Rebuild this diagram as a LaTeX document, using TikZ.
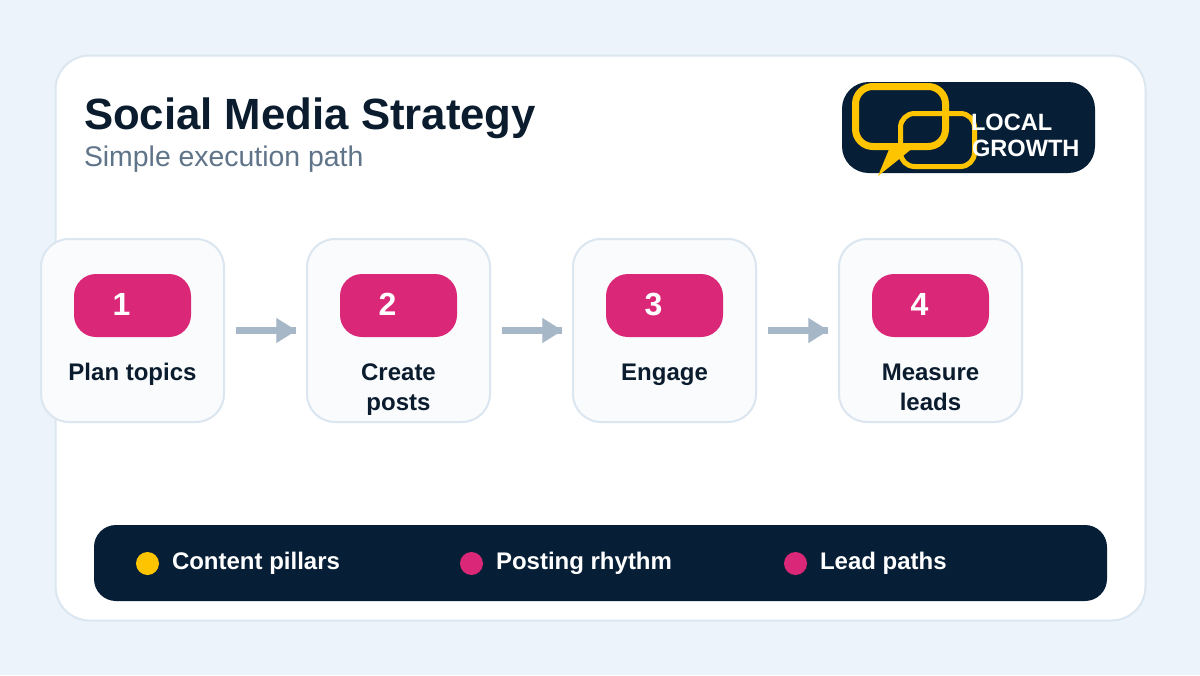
\documentclass[tikz,border=0pt]{standalone}
\usepackage{fontspec}
\setmainfont{Liberation Sans}
\usetikzlibrary{arrows.meta}

\definecolor{pagebg}{HTML}{ECF3FA}
\definecolor{cardline}{HTML}{DBE6F0}
\definecolor{cardfill}{HTML}{F9FBFD}
\definecolor{navy}{HTML}{071F36}
\definecolor{inkdark}{HTML}{0B1C2E}
\definecolor{inkgrey}{HTML}{5F7488}
\definecolor{badgepink}{HTML}{DB2777}
\definecolor{logoyellow}{HTML}{FFC400}
\definecolor{flowgrey}{HTML}{A6B8C8}

\tikzset{
	every picture/.style={line width=0.75pt},
	every node/.style={inner sep=0pt,outer sep=0pt},
	stepcard/.style={draw=cardline,fill=cardfill,line width=1.5pt,rounded corners=21pt,minimum width=137.25pt,minimum height=137.25pt},
	stepbadge/.style={fill=badgepink,rounded corners=16.5pt,minimum width=87.75pt,minimum height=47.25pt},
	stepnum/.style={text=white,font=\bfseries\fontsize{24pt}{24pt}\selectfont},
	steplabel/.style={text=inkdark,align=center,font=\bfseries\fontsize{18pt}{22.5pt}\selectfont},
	flowshaft/.style={draw=flowgrey,line width=5.25pt,shorten <=9pt,shorten >=8pt},
	flowtip/.style={draw=flowgrey,line width=0.1pt,shorten <=9pt,shorten >=8pt,-{Triangle[length=15pt,width=18.75pt,fill=flowgrey]}},
	legendtext/.style={anchor=base west,text=white,font=\bfseries\fontsize{18pt}{18pt}\selectfont},
	legenddot/.style={circle,minimum size=17.25pt},
	logotext/.style={anchor=base west,text=white,font=\bfseries\fontsize{17.7pt}{17.7pt}\selectfont}
}

\begin{document}
\begin{tikzpicture}[x=0.75pt,y=0.75pt,yscale=-1,xscale=1]
	\useasboundingbox (0,0) rectangle (1200,675);
	\fill [pagebg] (0,0) rectangle (1200,675);

	% Main card
	\draw [draw=cardline,fill=white,line width=1.5pt,rounded corners=25.5pt] (55.5,55.5) rectangle (1145.5,620.5);

	% Text Node
	\node [anchor=base west,text=inkdark,font=\bfseries\fontsize{32.8pt}{33pt}\selectfont] (title) at (84,129) {Social Media Strategy};
	% Text Node
	\node [anchor=base west,text=inkgrey,font=\fontsize{21.3pt}{21pt}\selectfont] (subtitle) at (84,166) {Simple execution path};

	% Logo
	\fill [navy,rounded corners=20pt] (842,82) rectangle (1095,173);
	\draw [logoyellow,line width=3.75pt,rounded corners=10.5pt] (900.5,113.5) rectangle (974.5,166.5);
	\draw [logoyellow,line width=5.25pt,rounded corners=13pt] (855.5,86.5) rectangle (945.5,146.5);
	\fill [logoyellow] (890,147) -- (914,147) -- (898,160) -- (878,176) -- cycle;
	\node [logotext] (logoa) at (971,130) {LOCAL};
	\node [logotext] (logob) at (972,156) {GROWTH};

	% Steps
	\foreach \n/\x in {1/132.5,2/398.5,3/664.5,4/930.5}{
		\node [stepcard] (card\n) at (\x,330.5) {};
		\node [stepbadge] (badge\n) at (\x,305.5) {};
		\node [stepnum] (num\n) at (\x-11,304.5) {\n};
	}
	\node [steplabel,anchor=base] (label1) at (132.5,380) {Plan topics};
	\node [steplabel,anchor=base] (label2) at (398.5,410) {Create\\posts};
	\node [steplabel,anchor=base] (label3) at (664.5,380) {Engage};
	\node [steplabel,anchor=base] (label4) at (930.5,410) {Measure\\leads};

	% Arrows
	\foreach \a/\b in {card1/card2,card2/card3,card3/card4}{
		\draw [flowshaft] (\a) -- (\b);
		\draw [flowtip] (\a) -- (\b);
	}

	% Legend bar
	\fill [navy,rounded corners=16.5pt] (94,525) rectangle (1107,601);
	\node [legenddot,fill=logoyellow] (dot1) at (147.5,563.5) {};
	\node [legenddot,fill=badgepink] (dot2) at (471.5,563.5) {};
	\node [legenddot,fill=badgepink] (dot3) at (795.5,563.5) {};
	\node [legendtext] (item1) at (172,569) {Content pillars};
	\node [legendtext] (item2) at (496,569) {Posting rhythm};
	\node [legendtext] (item3) at (820,569) {Lead paths};
\end{tikzpicture}
\end{document}
